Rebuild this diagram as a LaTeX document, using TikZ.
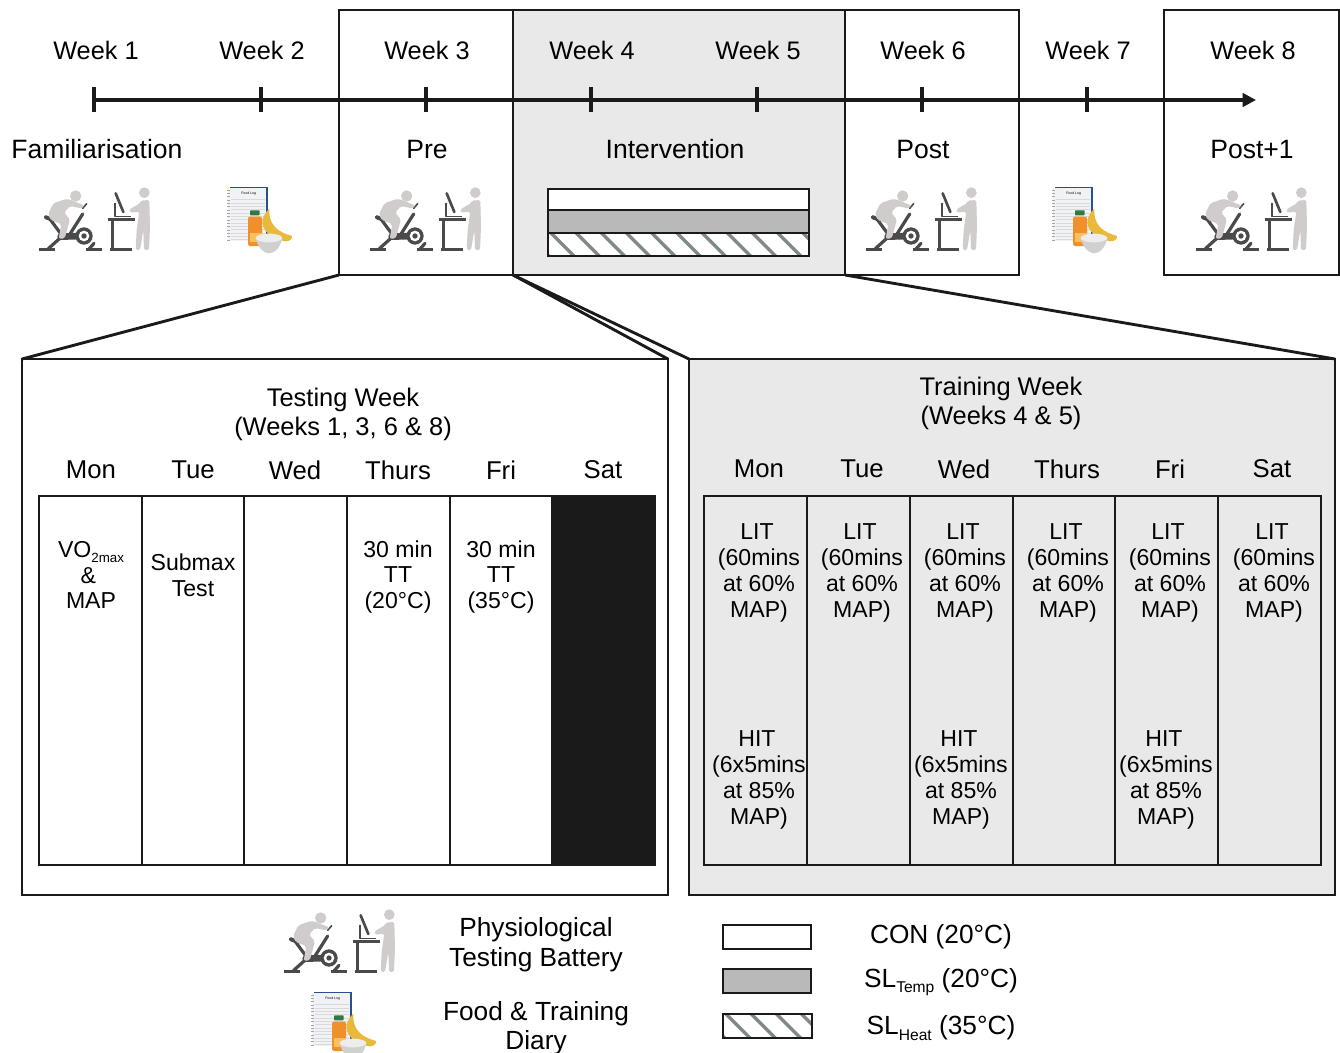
\documentclass[tikz,border=0pt]{standalone}
\usepackage{fontspec}
\setmainfont{Liberation Sans}
\usetikzlibrary{arrows.meta,calc}
\definecolor{ink}{HTML}{1A1A1A}
\definecolor{panel}{HTML}{E9E9E9}
\definecolor{barg}{HTML}{B9B9B9}
\definecolor{stripe}{HTML}{7F8A88}
\definecolor{icdark}{HTML}{4A4A4A}
\definecolor{icperson}{HTML}{CFCCCB}
\definecolor{logpage}{HTML}{F0F2F6}
\definecolor{logspine}{HTML}{2A4F8F}
\definecolor{juice}{HTML}{F0902A}
\definecolor{juicelabel}{HTML}{F8C060}
\definecolor{capgreen}{HTML}{2F7A3F}
\definecolor{banana}{HTML}{E8B93A}
\definecolor{bowlout}{HTML}{D0D0D0}
\definecolor{bowlin}{HTML}{EDEDED}
\newcommand{\fsWeek}{\fontsize{19}{19.3}\selectfont}
\newcommand{\fsBig}{\fontsize{19.9}{22}\selectfont}
\newcommand{\fsCell}{\fontsize{17.3}{19.3}\selectfont}
\newcommand{\subtxt}[2]{\raisebox{-.22em}{\fontsize{#1}{#1}\selectfont #2}}
\tikzset{
  x=0.75pt,y=-0.75pt,
  boxline/.style={draw=ink,line width=2.15pt},
  sized/.style n args={2}{anchor=north west,inner sep=0pt,outer sep=0pt,minimum width={#1*0.75pt},minimum height={#2*0.75pt}},
  whitebox/.style={boxline,fill=white},
  greybox/.style={boxline,fill=panel},
  daycell/.style={boxline,fill=white,sized={103}{369}},
  daygrey/.style={boxline,fill=panel,sized={103}{369}},
  wk/.style={font=\fsWeek,inner sep=0pt},
  big/.style={font=\fsBig,inner sep=0pt,align=center},
  celltxt/.style={font=\fsCell,inner sep=0pt,align=center},
  head/.style={font=\fontsize{19.1}{21.8}\selectfont,inner sep=0pt,align=center},
  dayname/.style={font=\fontsize{19.3}{22}\selectfont,inner sep=0pt},
  leglabel/.style={font=\fontsize{19.7}{22.2}\selectfont,inner sep=0pt,align=center},
  hatchbox/.style={boxline,fill=white,path picture={
     \foreach \k in {-1,...,#1}
       \draw[stripe,line width=2.5pt] ($(path picture bounding box.north west)+({\k*25.2+1},-2)$) -- ++(27,27);}},
  tester/.pic={
    \begin{scope}[x=0.25pt,y=-0.25pt,line cap=round,line join=round]
      % bike
      \draw[icdark,line width=2.2pt,line cap=butt] (57,238)--(105,238) (197,238)--(245,238);
      \draw[icdark,line width=2.4pt] (85,236)--(125,200) (208,236)--(222,220);
      \draw[icdark,line width=3pt] (78,142)--(98,150);
      \draw[icdark,line width=2.4pt] (92,150)--(125,195) (188,132)--(150,192);
      \draw[icdark,line width=1.2pt] (188,115)--(200,101);
      \draw[icdark,line width=5pt] (122,200)--(180,198);
      \fill[icdark] (192,198) circle (26);
      \fill[white] (192,198) circle (16);
      \fill[icdark] (192,198) circle (8);
      % rider
      \fill[icperson] (167,78) circle (17);
      \fill[icperson,rounded corners=1.5pt] (84,132) -- (100,100) -- (140,86) -- (152,90) -- (192,106) -- (188,116) -- (150,108) -- (132,128) -- (150,148) -- (134,206) -- (116,206) -- (124,162) -- (92,150) -- cycle;
      % desk
      \draw[icdark,line width=2pt,line cap=butt] (263,148)--(345,148) (278,148)--(278,238) (270,238)--(335,238);
      \draw[icdark,line width=2pt] (287,70)--(310,126);
      \draw[icdark,line width=.8pt] (285,100)--(285,140)--(332,140);
      % standing person
      \fill[icperson] (373,68) circle (16);
      \fill[icperson,rounded corners=1.2pt] (362,92)--(388,90)--(390,170)--(387,240)--(372,240)--(370,180)--(360,240)--(347,240)--(350,180)--(358,125)--(330,128)--(328,118)--(360,100)--cycle;
    \end{scope}
  },
  foodlog/.pic={
    \begin{scope}[x=0.25pt,y=-0.25pt]
      \fill[logspine] (630,52) rectangle (744,212);
      \fill[logpage] (625,55) rectangle (738,212);
      \foreach \r in {60,70,...,210}
        \draw[gray!70,line width=.35pt] (622,\r)--(630,\r);
      \foreach \r in {88,98,...,208}
        \draw[gray!30,line width=.2pt] (632,\r)--(736,\r);
      \node (-title) at (686,72) {\fontsize{2.6}{3}\selectfont Food Log};
      \fill[banana] (748,116) .. controls (712,150) and (720,195) .. (795,214)
          .. controls (810,214) and (818,206) .. (816,198)
          .. controls (780,188) and (745,170) .. (748,116) -- cycle;
      \fill[juice,rounded corners=1.5pt] (684,140) rectangle (726,228);
      \fill[juicelabel] (690,190) rectangle (726,215);
      \fill[capgreen,rounded corners=.6pt] (690,121) rectangle (719,136);
      \fill[bowlout] (707,202) .. controls (712,235) and (735,250) .. (747,250)
          .. controls (762,250) and (782,235) .. (787,202) -- cycle;
      \fill[bowlin] (747,204) ellipse (40 and 13);
    \end{scope}
  },
}
\begin{document}
\begin{tikzpicture}
\useasboundingbox (0,0) rectangle (1340,1053);
% top panels
\node[whitebox,sized={174}{265}] (prebox) at (339,10) {};
\node[greybox,sized={332}{265}] (intbox) at (513,10) {};
\node[whitebox,sized={174}{265}] (postbox) at (845,10) {};
\node[whitebox,sized={175}{265}] (post1box) at (1164,10) {};
% lower panels
\node[whitebox,sized={646}{536}] (testbox) at (22,359) {};
\node[greybox,sized={646}{536}] (trainbox) at (689,359) {};
\draw[boxline] (prebox.south west) -- (testbox.north west);
\draw[boxline] (prebox.south east) -- (testbox.north east);
\draw[boxline] (intbox.south west) -- (trainbox.north west);
\draw[boxline] (intbox.south east) -- (trainbox.north east);
% timeline
\coordinate (tstart) at (94,100);
\coordinate (tend) at (1256,100);
\draw[ink,line width=2.4pt,-{Triangle[length=10pt,width=10pt]}] (tstart) -- (tend);
\foreach \xx/\nm in {94/a,261/b,426/c,591/d,757/e,922/f,1087/g}{
  \coordinate (tk\nm t) at (\xx,87);
  \coordinate (tk\nm b) at (\xx,112);
  \draw[ink,line width=2.4pt] (tk\nm t) -- (tk\nm b);
}
\foreach \xx/\n in {96/1,262/2,427/3,592/4,758/5,923/6,1088/7,1253/8}
  \node[wk] (week\n) at (\xx,50) {Week \n};
\node[big] (lfam) at (97,149) {Familiarisation};
\node[big] (lpre) at (427,149.5) {Pre};
\node[big] (lint) at (675,149) {Intervention};
\node[big] (lpost) at (923,149.5) {Post};
\node[big] (lpostb) at (1252,149.5) {Post+1};
% icons
\pic (bikeA) at (20,170) {tester};
\pic (bikeB) at (351,170) {tester};
\pic (bikeC) at (847,170) {tester};
\pic (bikeD) at (1177,170) {tester};
\pic (bikeE) at (265,892) {tester};
\pic (foodA) at (20,170) {foodlog};
\pic (foodB) at (845,170) {foodlog};
\pic (foodC) at (104,975) {foodlog};
% intervention bars
\node[whitebox,sized={261}{21}] (barcon) at (548,189) {};
\node[boxline,fill=barg,sized={261}{23}] (bartemp) at (548,210) {};
\node[hatchbox=10,sized={261}{23}] (barheat) at (548,233) {};
% testing week
\node[head] (testhead) at (343,414) {Testing Week\\(Weeks 1, 3, 6 \& 8)};
\foreach \xx/\d/\nm in {91/Mon/a,193/Tue/b,295/Wed/c,398/Thurs/d,501/Fri/e,603/Sat/f}
  \node[dayname] (td\nm) at (\xx,470) {\d};
\foreach \xx/\nm in {39/a,142/b,244/c,347/d,450/e}
  \node[daycell] (tc\nm) at (\xx,496) {};
\node[boxline,fill=ink,sized={103}{369}] (tcf) at (552,496) {};
\node[celltxt] (t1) at (91,575) {VO\subtxt{10}{2max}\\\&\kern4pt\\MAP};
\node[celltxt] (t2) at (193,575) {Submax\\Test};
\node[celltxt] (t3) at (398,577) {30 min\\TT\\(20°C)};
\node[celltxt] (t4) at (501,577) {30 min\\TT\\(35°C)};
% training week
\node[head] (trainhead) at (1001,403) {Training Week\\(Weeks 4 \& 5)};
\foreach \xx/\d/\nm in {759/Mon/a,862/Tue/b,964/Wed/c,1067/Thurs/d,1170/Fri/e,1272/Sat/f}
  \node[dayname] (rd\nm) at (\xx,469) {\d};
\foreach \xx/\nm in {704/a,807/b,910/c,1013/d,1115/e,1218/f}
  \node[daygrey] (rc\nm) at (\xx,496) {};
\foreach \xx/\nm in {759/a,862/b,965/c,1068/d,1170/e,1274/f}
  \node[celltxt] (lit\nm) at (\xx,573) {LIT\kern3pt\\(60mins\\at 60\%\\MAP)};
\foreach \xx/\nm in {759/a,961/c,1166/e}
  \node[celltxt] (hit\nm) at (\xx,780) {HIT\kern3pt\\(6x5mins\\at 85\%\\MAP)};
% legend
\node[leglabel] (legphys) at (536,945) {Physiological\\Testing Battery};
\node[leglabel] (legfood) at (536,1028) {Food \& Training\\Diary};
\node[whitebox,sized={88}{24}] (legcon) at (723,925) {};
\node[boxline,fill=barg,sized={88}{24}] (legtemp) at (723,969) {};
\node[hatchbox=4,sized={89}{24}] (legheat) at (723,1014) {};
\node[leglabel] (lcon) at (941,937) {CON (20°C)};
\node[leglabel] (ltemp) at (941,982) {SL\subtxt{11.7}{Temp} (20°C)};
\node[leglabel] (lheat) at (941,1028) {SL\subtxt{11.7}{Heat} (35°C)};
\end{tikzpicture}
\end{document}
